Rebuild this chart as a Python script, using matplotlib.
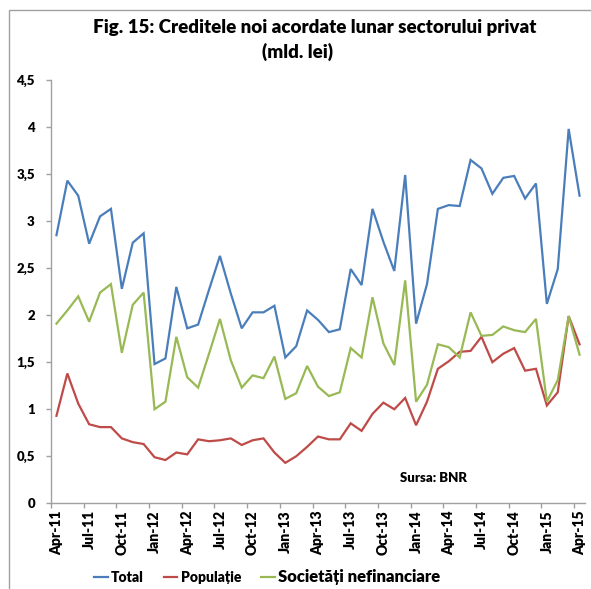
import matplotlib
matplotlib.use("Agg")
import matplotlib.pyplot as plt
from matplotlib.patches import Rectangle
import numpy as np

months = ["Apr-11","May-11","Jun-11","Jul-11","Aug-11","Sep-11","Oct-11","Nov-11","Dec-11",
          "Jan-12","Feb-12","Mar-12","Apr-12","May-12","Jun-12","Jul-12","Aug-12","Sep-12",
          "Oct-12","Nov-12","Dec-12","Jan-13","Feb-13","Mar-13","Apr-13","May-13","Jun-13",
          "Jul-13","Aug-13","Sep-13","Oct-13","Nov-13","Dec-13","Jan-14","Feb-14","Mar-14",
          "Apr-14","May-14","Jun-14","Jul-14","Aug-14","Sep-14","Oct-14","Nov-14","Dec-14",
          "Jan-15","Feb-15","Mar-15","Apr-15"]

total = [2.85, 3.43, 3.27, 2.76, 3.05, 3.13, 2.28, 2.77, 2.87,
         1.48, 1.54, 2.30, 1.86, 1.90, 2.27, 2.63, 2.23, 1.86,
         2.03, 2.03, 2.10, 1.55, 1.67, 2.05, 1.95, 1.82, 1.85,
         2.49, 2.32, 3.13, 2.78, 2.47, 3.49, 1.91, 2.33, 3.13,
         3.17, 3.16, 3.65, 3.56, 3.29, 3.46, 3.48, 3.24, 3.40,
         2.12, 2.49, 3.98, 3.27]

populatie = [0.93, 1.38, 1.06, 0.84, 0.81, 0.81, 0.69, 0.65, 0.63,
             0.49, 0.46, 0.54, 0.52, 0.68, 0.66, 0.67, 0.69, 0.62,
             0.67, 0.69, 0.54, 0.43, 0.50, 0.60, 0.71, 0.68, 0.68,
             0.85, 0.77, 0.95, 1.07, 1.00, 1.12, 0.83, 1.08, 1.43,
             1.51, 1.61, 1.62, 1.77, 1.50, 1.59, 1.65, 1.41, 1.43,
             1.04, 1.18, 1.99, 1.69]

societati = [1.91, 2.05, 2.20, 1.93, 2.24, 2.33, 1.60, 2.11, 2.24,
             1.00, 1.08, 1.77, 1.34, 1.23, 1.59, 1.96, 1.52, 1.23,
             1.36, 1.33, 1.56, 1.11, 1.17, 1.46, 1.24, 1.14, 1.18,
             1.65, 1.55, 2.19, 1.70, 1.47, 2.37, 1.08, 1.26, 1.69,
             1.66, 1.55, 2.03, 1.78, 1.79, 1.88, 1.84, 1.82, 1.96,
             1.08, 1.31, 1.99, 1.58]

series_names = ["Total", "Populație", "Societăți nefinanciare"]
colors = ["#4A7EBB", "#BE4B48", "#98B954"]
yticks = [0, 0.5, 1, 1.5, 2, 2.5, 3, 3.5, 4, 4.5]
ytick_labels = ["0", "0,5", "1", "1,5", "2", "2,5", "3", "3,5", "4", "4,5"]

plt.rcParams['font.family'] = ['Lato', 'DejaVu Sans']

W, H = 591, 589
fig = plt.figure(figsize=(W/100, H/100), dpi=100)
ax = fig.add_axes([51/W, 1-503.3/H, (585-51)/W, (503.3-80)/H])

x = np.arange(len(months))
for vals, c, n in zip([total, populatie, societati], colors, series_names):
    ax.plot(x, vals, color=c, lw=1.6, label=n, solid_joinstyle='miter')

ax.set_xlim(-0.5, len(months)-0.5)
ax.set_ylim(0, 4.5)
ax.set_yticks(yticks)
ax.set_yticklabels(ytick_labels, fontweight='heavy', fontsize=9.5)

lab_pos = x[::3]
ax.set_xticks(lab_pos)
ax.set_xticklabels(months[::3], rotation=90, fontweight='heavy', fontsize=10)
ax.tick_params(axis='x', which='major', length=0, pad=5)
ax.set_xticks(np.arange(-0.5, len(months), 3), minor=True)
ax.tick_params(axis='x', which='minor', length=3.6, color='#A0A0A0', width=1)
ax.tick_params(axis='y', length=3.6, color='#A0A0A0', width=1, pad=8)

for s in ['top', 'right']:
    ax.spines[s].set_visible(False)
for s in ['left', 'bottom']:
    ax.spines[s].set_color('#A0A0A0')
    ax.spines[s].set_linewidth(1)

fig.text(315/W, 1-28/H, "Fig. 15: Creditele noi acordate lunar sectorului privat",
         ha='center', va='center', fontsize=13.5, fontweight='heavy')
fig.text(298/W, 1-52/H, "(mld. lei)", ha='center', va='center',
         fontsize=13.5, fontweight='heavy')

fig.text(467/W, 1-478/H, "Sursa: BNR", ha='right', va='center',
         fontsize=9.5, fontweight='heavy')

fig.add_artist(Rectangle((9/W, -0.2), 1.5, 1-10/H+0.2, transform=fig.transFigure,
                         fill=False, edgecolor='#A0A0A0', lw=1))

handles, labels = ax.get_legend_handles_labels()
leg = fig.legend(handles, labels, loc='center', bbox_to_anchor=(267/W, 1-577/H),
                 ncol=3, frameon=False, handlelength=1.0, handletextpad=0.25,
                 columnspacing=1.4, prop={'weight': 'heavy', 'size': 10})
leg.get_texts()[2].set_fontsize(12)

fig.savefig("out.png", dpi=100)
